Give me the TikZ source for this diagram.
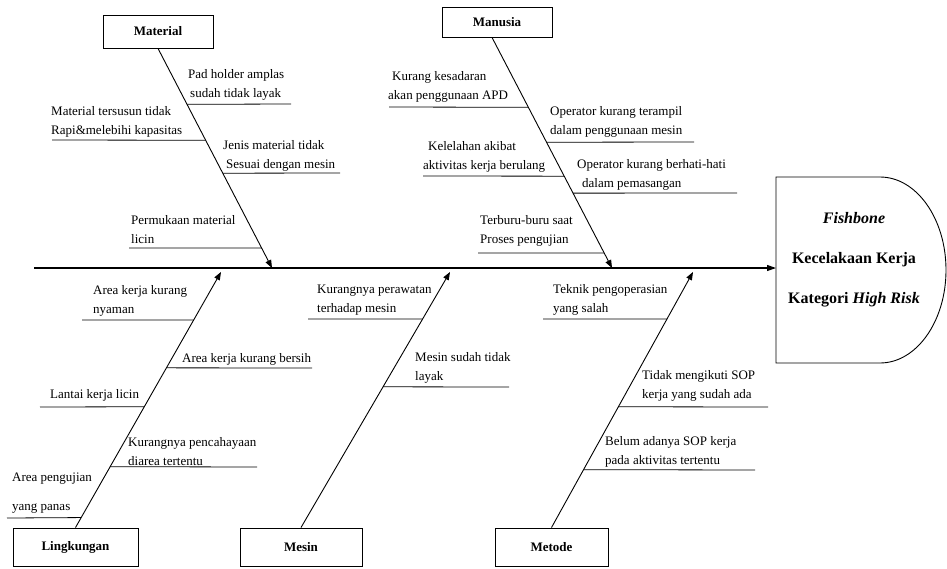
\documentclass[tikz,border=0pt]{standalone}
\usepackage{fontspec}
\setmainfont{Liberation Serif}
\usetikzlibrary{arrows.meta}
\begin{document}
\begin{tikzpicture}[x=1pt,y=-1pt,
  bone/.style={line width=0.9pt, -{Triangle[length=8pt,width=6pt]}},
  sub/.style={line width=0.8pt},
  cat/.style={draw, line width=0.9pt, font=\fontsize{13}{15}\selectfont\bfseries, inner sep=0pt},
  lbl/.style={font=\fontsize{13}{19}\selectfont, align=left, inner sep=0pt, anchor=west},
]
\useasboundingbox (0,0) rectangle (947,568);
% category boxes
\node[cat, minimum width=110pt, minimum height=33pt] (mat) at (158,31.5) {Material};
\node[cat, minimum width=110pt, minimum height=30pt] (man) at (497,22) {Manusia};
\node[cat, minimum width=125pt, minimum height=38pt] (lin) at (75.5,547) {Lingkungan};
\node[cat, minimum width=122pt, minimum height=38pt] (mes) at (301,547) {Mesin};
\node[cat, minimum width=113pt, minimum height=38pt] (met) at (551.5,547) {Metode};
% head
\draw[line width=0.9pt] (776,177) -- (880,177) arc[start angle=-90,end angle=90,x radius=66,y radius=93] -- (776,363) -- cycle;
\node[font=\fontsize{16}{40}\selectfont\bfseries, align=center, inner sep=0pt] (head) at (854,260) {\textit{Fishbone}\\Kecelakaan Kerja\\Kategori \textit{High Risk}};
% spine
\coordinate (spS) at (34,268);
\coordinate (headW) at (776,268);
\draw[line width=1.1pt, -{Triangle[length=9pt,width=6pt]}] (spS) -- (headW);
% Material
\coordinate (matT) at (272,268);
\draw[bone] (mat.south) -- (matT);
\path (mat.south) -- (matT) coordinate[pos=0.2545] (m1) coordinate[pos=0.4182] (m2) coordinate[pos=0.5682] (m3) coordinate[pos=0.9091] (m4);
\coordinate (m1e) at (291,104); \draw[sub] (m1) -- (m1e);
\coordinate (m2e) at (52,140); \draw[sub] (m2e) -- (m2);
\coordinate (m3e) at (340,173); \draw[sub] (m3) -- (m3e);
\coordinate (m4e) at (129,248); \draw[sub] (m4e) -- (m4);
\node[lbl] (tm1) at (188,85) {Pad holder amplas\\\hspace*{2pt}sudah tidak layak};
\node[lbl] (tm2) at (51,121.5) {Material tersusun tidak\\Rapi\&melebihi kapasitas};
\node[lbl] (tm3) at (223,156) {Jenis material tidak\\\hspace*{3pt}Sesuai dengan mesin};
\node[lbl] (tm4) at (131,230) {Permukaan material\\licin};
% Manusia
\coordinate (manS) at ([xshift=-5pt]man.south);
\coordinate (manT) at (612,268);
\draw[bone] (manS) -- (manT);
\path (manS) -- (manT) coordinate[pos=0.3030] (n1) coordinate[pos=0.4545] (n2) coordinate[pos=0.6017] (n3) coordinate[pos=0.6753] (n4) coordinate[pos=0.9351] (n5);
\coordinate (n1e) at (389,107); \draw[sub] (n1e) -- (n1);
\coordinate (n2e) at (694,142); \draw[sub] (n2) -- (n2e);
\coordinate (n3e) at (423,176); \draw[sub] (n3e) -- (n3);
\coordinate (n4e) at (737,193); \draw[sub] (n4) -- (n4e);
\coordinate (n5e) at (478,253); \draw[sub] (n5e) -- (n5);
\node[lbl] (tn1) at (388,87) {\hspace*{4pt}Kurang kesadaran\\akan penggunaan APD};
\node[lbl] (tn2) at (550,121.5) {Operator kurang terampil\\dalam penggunaan mesin};
\node[lbl] (tn3) at (423,156.5) {\hspace*{5pt}Kelelahan akibat\\aktivitas kerja berulang};
\node[lbl] (tn4) at (577,174.5) {Operator kurang berhati-hati\\\hspace*{5pt}dalam pemasangan};
\node[lbl] (tn5) at (480,231) {Terburu-buru saat\\Proses pengujian};
% Lingkungan
\coordinate (linT) at (221,272);
\draw[bone] (lin.north) -- (linT);
\path (lin.north) -- (linT) coordinate[pos=0.8125] (l1) coordinate[pos=0.625] (l2) coordinate[pos=0.4727] (l3) coordinate[pos=0.2383] (l4) coordinate[pos=0.0391] (l5);
\coordinate (l1e) at (82,320); \draw[sub] (l1e) -- (l1);
\coordinate (l2e) at (312,368); \draw[sub] (l2) -- (l2e);
\coordinate (l3e) at (40,407); \draw[sub] (l3e) -- (l3);
\coordinate (l4e) at (257,467); \draw[sub] (l4) -- (l4e);
\coordinate (l5e) at (7,518); \draw[sub] (l5e) -- (l5);
\node[lbl] (tl1) at (93,300.5) {Area kerja kurang\\nyaman};
\node[lbl] (tl2) at (182,359) {Area kerja kurang bersih};
\node[lbl] (tl3) at (50,395) {Lantai kerja licin};
\node[lbl] (tl4) at (128,451.5) {Kurangnya pencahayaan\\diarea tertentu};
\node[lbl] (tl5) at (12,493) {Area pengujian\\[10pt]yang panas};
% Mesin
\coordinate (mesT) at (450,272);
\draw[bone] (mes.north) -- (mesT);
\path (mes.north) -- (mesT) coordinate[pos=0.8164] (s1) coordinate[pos=0.5508] (s2);
\coordinate (s1e) at (308,319); \draw[sub] (s1e) -- (s1);
\coordinate (s2e) at (509,387); \draw[sub] (s2) -- (s2e);
\node[lbl] (ts1) at (317,300) {Kurangnya perawatan\\terhadap mesin};
\node[lbl] (ts2) at (415,367.5) {Mesin sudah tidak\\layak};
% Metode
\coordinate (metT) at (693,272);
\draw[bone] (met.north) -- (metT);
\path (met.north) -- (metT) coordinate[pos=0.8164] (d1) coordinate[pos=0.4727] (d2) coordinate[pos=0.2266] (d3);
\coordinate (d1e) at (543,319); \draw[sub] (d1e) -- (d1);
\coordinate (d2e) at (768,407); \draw[sub] (d2) -- (d2e);
\coordinate (d3e) at (755,470); \draw[sub] (d3) -- (d3e);
\node[lbl] (td1) at (553,300) {Teknik pengoperasian\\yang salah};
\node[lbl] (td2) at (642,386) {Tidak mengikuti SOP\\kerja yang sudah ada};
\node[lbl] (td3) at (605,451.5) {Belum adanya SOP kerja\\pada aktivitas tertentu};
\end{tikzpicture}
\end{document}
